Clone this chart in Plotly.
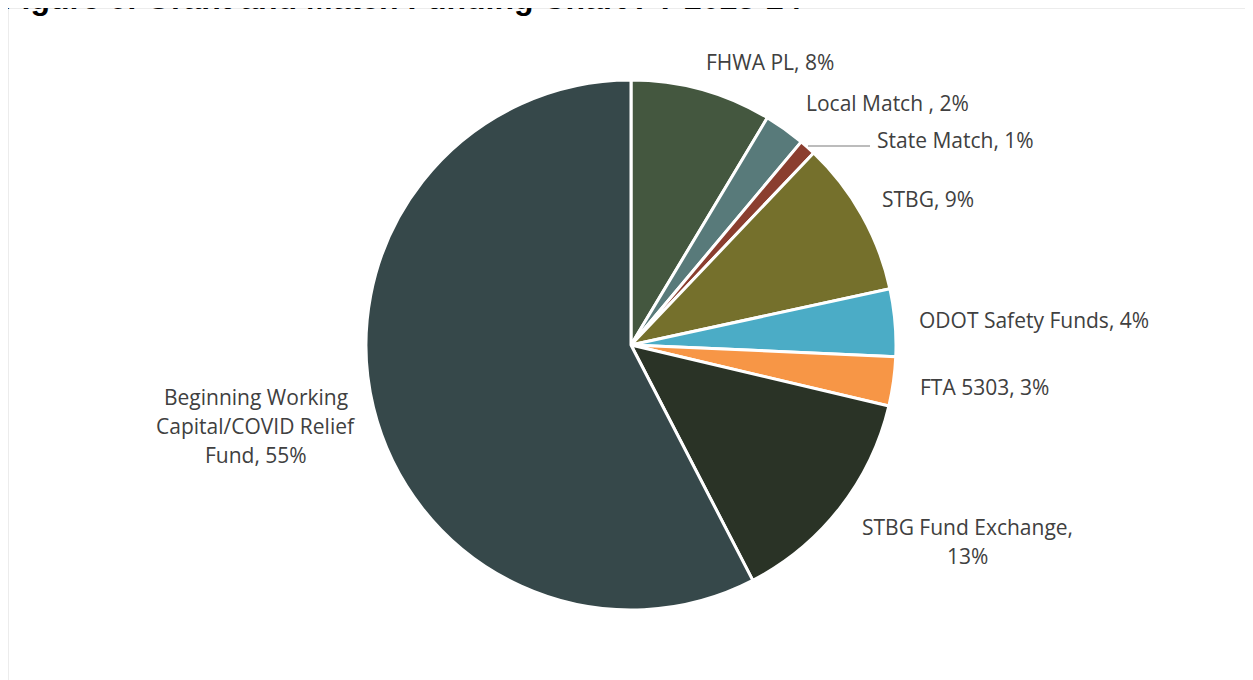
import plotly.graph_objects as go

# Data
categories = ["FHWA PL", "Local Match ", "State Match", "STBG", "ODOT Safety Funds",
              "FTA 5303", "STBG Fund Exchange", "Beginning Working Capital/COVID Relief Fund"]
values = [8.6, 2.5, 1.0, 9.5, 4.1, 3.0, 13.7, 57.6]
pct_labels = ["8%", "2%", "1%", "9%", "4%", "3%", "13%", "55%"]
colors = ["#44573F", "#587A7A", "#8B3E2F", "#75702C", "#4BACC6",
          "#F79646", "#2A3326", "#36484A"]
title_text = "Figure 6: Grant and Match Funding Chart FY 2023-24"

W, H = 1253, 680
OFF = 8  # page offset of the figure inside the browser body
cx, cy, r = 631 - OFF, 345 - OFF, 265

fig = go.Figure(go.Pie(
    labels=categories, values=values, sort=False, direction="clockwise", rotation=0,
    marker=dict(colors=colors, line=dict(color="white", width=3)),
    textinfo="none", hoverinfo="label+percent", showlegend=False,
    domain=dict(x=[(cx - r) / W, (cx + r) / W], y=[(H - cy - r) / H, (H - cy + r) / H]),
))

def px(x):
    return (x - OFF) / W

def py(y):
    return 1 - (y - OFF) / H

LINE = 29
label_pos = [  # (x, y of first line, anchor, text lines) in page pixels
    (770, 62, "center", [categories[0] + ", " + pct_labels[0]]),
    (887, 103, "center", [categories[1] + ", " + pct_labels[1]]),
    (875, 140, "left", [categories[2] + ", " + pct_labels[2]]),
    (928, 199, "center", [categories[3] + ", " + pct_labels[3]]),
    (1034, 320, "center", [categories[4] + ", " + pct_labels[4]]),
    (984, 387, "center", [categories[5] + ", " + pct_labels[5]]),
    (967, 527, "center", [categories[6] + ",", pct_labels[6]]),
    (256, 397, "center", ["Beginning Working", "Capital/COVID Relief", "Fund, " + pct_labels[7]]),
]

annotations = []
for x, y, anc, lines in label_pos:
    for i, line in enumerate(lines):
        annotations.append(dict(
            x=px(x), y=py(y + i * LINE), xref="paper", yref="paper", xanchor=anc, yanchor="middle",
            text=line, showarrow=False, align="center",
            font=dict(family="Open Sans", size=21, color="#404040"),
        ))

annotations.append(dict(
    x=px(0), y=py(18), xref="paper", yref="paper", xanchor="left", yanchor="bottom",
    text="<b>" + title_text + "</b>", showarrow=False,
    font=dict(family="Liberation Sans", size=32, color="#000000"),
))

shapes = [
    dict(type="rect", xref="paper", yref="paper", x0=px(8), x1=px(1275), y0=py(8), y1=py(700),
         line=dict(color="#D9D9D9", width=1), layer="below"),
    dict(type="line", xref="paper", yref="paper", x0=px(808), x1=px(870), y0=py(146), y1=py(146),
         line=dict(color="#A6A6A6", width=1.5)),
]

fig.update_layout(
    width=W, height=H, margin=dict(l=0, r=0, t=0, b=0),
    paper_bgcolor="white", plot_bgcolor="white",
    annotations=annotations, shapes=shapes,
)

fig.write_html("out.html")
